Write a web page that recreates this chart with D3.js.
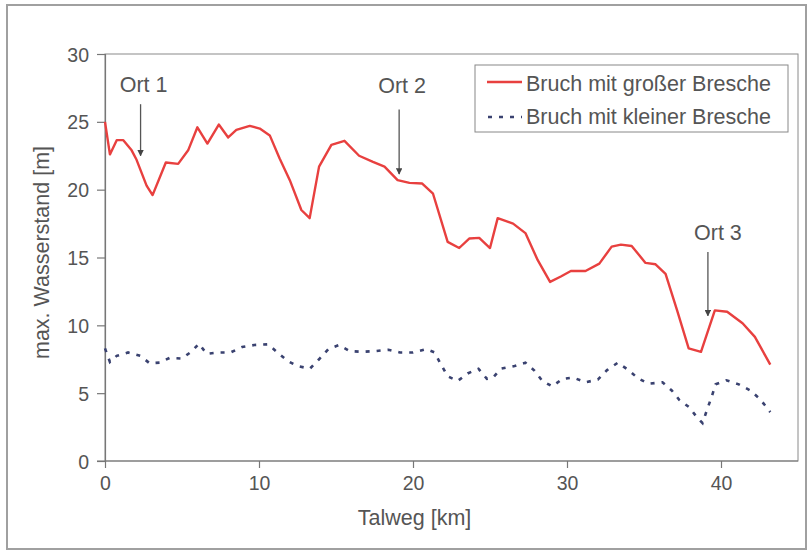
<!DOCTYPE html>
<html><head><meta charset="utf-8">
<script src="https://cdn.jsdelivr.net/npm/d3@7"></script>
<style>
html,body{margin:0;padding:0;background:#fff;}
svg text{font-family:"Liberation Sans",Arial,sans-serif;fill:#555;}
</style></head>
<body><svg id="c" width="809" height="559"></svg>
<script>
// ---- data ----
const kmGross = [0,0.32,0.76,1.19,1.73,2.05,2.7,3.09,3.95,4.75,5.4,6.0,6.65,7.39,8.0,8.53,9.4,10.05,10.7,11.34,12.0,12.75,13.29,13.9,14.7,15.55,16.5,17.4,18.15,19.0,19.77,20.6,21.3,22.25,23.0,23.65,24.3,25.0,25.5,26.5,27.3,28.1,28.9,29.6,30.25,31.2,32.1,32.9,33.5,34.2,35.1,35.75,36.4,37.15,37.9,38.7,39.6,40.4,41.4,42.2,43.2];
const valGross = [25.0,22.6,23.65,23.65,22.9,22.2,20.3,19.6,22.0,21.9,22.9,24.6,23.4,24.8,23.85,24.4,24.7,24.5,24.0,22.3,20.7,18.5,17.9,21.7,23.3,23.6,22.5,22.05,21.7,20.7,20.5,20.45,19.7,16.15,15.7,16.4,16.45,15.7,17.9,17.5,16.8,14.8,13.2,13.6,14.0,14.0,14.55,15.8,15.95,15.85,14.6,14.5,13.8,11.1,8.3,8.05,11.1,11.0,10.15,9.15,7.1];
const kmKlein = [0,0.32,0.76,1.5,2.3,2.9,3.55,4.2,5.0,5.65,6.1,6.6,7.35,8.15,8.9,9.7,10.6,11.2,11.9,12.5,13.3,13.9,14.5,15.2,15.9,16.7,17.55,18.4,19.15,20.0,20.85,21.4,21.8,22.25,22.9,23.55,24.25,24.8,25.2,25.7,26.6,27.3,27.9,28.4,29.05,29.7,30.4,31.2,32.0,32.6,33.3,34.0,34.6,35.3,36.2,36.8,37.3,37.95,38.45,38.8,39.1,39.4,39.65,40.35,41.15,41.9,42.55,43.2];
const valKlein = [8.3,7.3,7.75,8.0,7.75,7.2,7.25,7.6,7.55,8.1,8.65,7.9,8.0,8.0,8.4,8.55,8.6,8.0,7.35,7.0,6.8,7.5,8.25,8.55,8.1,8.05,8.1,8.2,8.0,8.0,8.25,8.0,7.15,6.25,5.9,6.45,6.8,6.05,6.15,6.8,7.0,7.25,6.65,5.9,5.5,6.05,6.15,5.8,6.0,6.7,7.25,6.7,6.1,5.7,5.8,5.2,4.5,3.95,3.2,2.8,3.8,4.75,5.65,5.95,5.65,5.2,4.55,3.6];
const xTicks = [0,10,20,30,40];
const yTicks = [0,5,10,15,20,25,30];
const seriesNames = ["Bruch mit großer Bresche","Bruch mit kleiner Bresche"];
const ortLabels = ["Ort 1","Ort 2","Ort 3"];
const ortKm = [2.31,19.1,39.15];
const ortTip = [22.5,21.15,10.7];
const ortTail = [26.3,25.9,15.4];
const ortText = [27.2,27.1,16.3];
const xTitle = "Talweg [km]";
const yTitle = "max. Wasserstand [m]";

// ---- layout ----
const svg = d3.select("#c");
const L = 105, T = 54, R = 798, B = 461;
const x = d3.scaleLinear().domain([0,45]).range([L,R]);
const y = d3.scaleLinear().domain([0,30]).range([B,T]);

// outer frame
svg.append("rect").attr("x",7).attr("y",5).attr("width",799).attr("height",544)
  .attr("fill","#fff").attr("stroke","#a0a0a0").attr("stroke-width",2);

// plot box
svg.append("rect").attr("x",L).attr("y",T).attr("width",R-L).attr("height",B-T)
  .attr("fill","#fff").attr("stroke","#8a8a8a").attr("stroke-width",1);

// axes
const xAxis = d3.axisBottom(x).tickValues(xTicks).tickSize(7).tickPadding(8).tickFormat(d3.format("d"));
const gx = svg.append("g").attr("transform",`translate(0,${B})`).call(xAxis);
const yAxis = d3.axisLeft(y).tickValues(yTicks).tickSize(8).tickPadding(8).tickFormat(d3.format("d"));
const gy = svg.append("g").attr("transform",`translate(${L},0)`).call(yAxis);
[gx,gy].forEach(g=>{
  g.select(".domain").attr("stroke","#777").attr("stroke-width",1.2);
  g.selectAll(".tick line").attr("stroke","#777").attr("stroke-width",1.2);
  g.selectAll(".tick text").attr("font-size","19.5px").attr("fill","#555")
   .style("font-family","'Liberation Sans',Arial,sans-serif");
});
gx.select(".domain").remove();
svg.append("line").attr("x1",L-8).attr("x2",R).attr("y1",B).attr("y2",B).attr("stroke","#777").attr("stroke-width",1.2);
gy.selectAll(".tick text").attr("dy","0.36em");

// titles
svg.append("text").attr("x",x(20.1)).attr("y",525).attr("text-anchor","middle")
  .attr("font-size","21.5px").text(xTitle);
svg.append("text").attr("transform",`translate(49,${(T+B)/2-5}) rotate(-90)`)
  .attr("text-anchor","middle").attr("font-size","21.5px").text(yTitle);

// lines
const line = d3.line().x(d=>x(d[0])).y(d=>y(d[1]));
const dG = kmGross.map((k,i)=>[k,valGross[i]]);
const dK = kmKlein.map((k,i)=>[k,valKlein[i]]);
svg.append("path").datum(dK).attr("d",line).attr("fill","none")
  .attr("stroke","#3a4270").attr("stroke-width",2.6).attr("stroke-dasharray","4,7");
svg.append("path").datum(dG).attr("d",line).attr("fill","none")
  .attr("stroke","#e8403f").attr("stroke-width",2.4).attr("stroke-linejoin","round");

// annotations
const defs = svg.append("defs");
defs.append("marker").attr("id","ah").attr("viewBox","0 0 10 10").attr("refX",9).attr("refY",5)
  .attr("markerWidth",5).attr("markerHeight",5).attr("orient","auto")
  .append("path").attr("d","M0,0 L10,5 L0,10 z").attr("fill","#444");
ortLabels.forEach((t,i)=>{
  svg.append("line").attr("x1",x(ortKm[i])).attr("x2",x(ortKm[i]))
    .attr("y1",y(ortTail[i])).attr("y2",y(ortTip[i]))
    .attr("stroke","#555").attr("stroke-width",1.3).attr("marker-end","url(#ah)");
  svg.append("text").attr("x",x(ortKm[i])+(i===2?10:3)).attr("y",y(ortText[i]))
    .attr("text-anchor","middle").attr("font-size","21.5px").text(t);
});

// legend
const lg = svg.append("g");
lg.append("rect").attr("x",475).attr("y",65).attr("width",313).attr("height",67)
  .attr("fill","#fff").attr("stroke","#888").attr("stroke-width",1);
lg.append("line").attr("x1",487).attr("x2",522).attr("y1",82).attr("y2",82)
  .attr("stroke","#e8403f").attr("stroke-width",2.6);
lg.append("text").attr("x",526).attr("y",91).attr("font-size","21.5px").text(seriesNames[0]);
lg.append("line").attr("x1",488).attr("x2",522).attr("y1",117).attr("y2",117)
  .attr("stroke","#3a4270").attr("stroke-width",2.6).attr("stroke-dasharray","4,7");
lg.append("text").attr("x",526).attr("y",124).attr("font-size","21.5px").text(seriesNames[1]);
</script></body></html>
